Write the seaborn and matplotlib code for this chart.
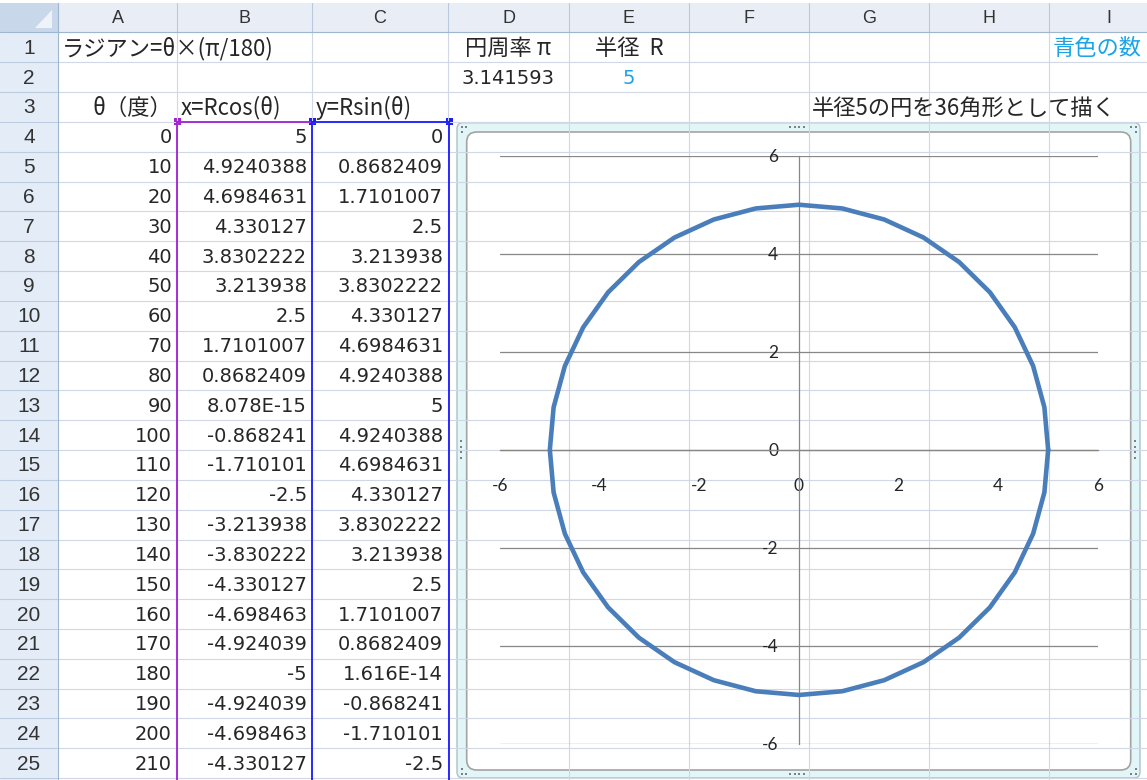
import matplotlib
matplotlib.use("Agg")
import matplotlib.pyplot as plt
from matplotlib.patches import Rectangle, FancyBboxPatch, Polygon
import seaborn as sns

theta_deg = [0, 10, 20, 30, 40, 50, 60, 70, 80, 90, 100, 110, 120, 130, 140, 150,
             160, 170, 180, 190, 200, 210, 220, 230, 240, 250, 260, 270, 280, 290,
             300, 310, 320, 330, 340, 350, 360]
x_vals = [5, 4.9240388, 4.6984631, 4.330127, 3.8302222, 3.213938, 2.5, 1.7101007,
          0.8682409, 8.078e-15, -0.868241, -1.710101, -2.5, -3.213938, -3.830222,
          -4.330127, -4.698463, -4.924039, -5, -4.924039, -4.698463, -4.330127,
          -3.830222, -3.213938, -2.5, -1.710101, -0.868241, -9.18e-16, 0.8682409,
          1.7101007, 2.5, 3.213938, 3.8302222, 4.330127, 4.6984631, 4.9240388, 5]
y_vals = [0, 0.8682409, 1.7101007, 2.5, 3.213938, 3.8302222, 4.330127, 4.6984631,
          4.9240388, 5, 4.9240388, 4.6984631, 4.330127, 3.8302222, 3.213938, 2.5,
          1.7101007, 0.8682409, 1.616e-14, -0.868241, -1.710101, -2.5, -3.213938,
          -3.830222, -4.330127, -4.698463, -4.924039, -5, -4.924039, -4.698463,
          -4.330127, -3.830222, -3.213938, -2.5, -1.710101, -0.868241, 0]
axis_ticks = [-6, -4, -2, 0, 2, 4, 6]

col_letters = ["A", "B", "C", "D", "E", "F", "G", "H", "I"]
pi_text = "3.141593"
radius_text = "5"
a1_text = "ラジアン=θ×(π/180)"
d1_text = "円周率 π"
e1_text = "半径  R"
i1_text = "青色の数"
a3_text = "θ（度）"
b3_text = "x=Rcos(θ)"
c3_text = "y=Rsin(θ)"
g3_text = "半径5の円を36角形として描く"
n_table_rows = 22   # rows 4..25 visible


def cell_fmt(v):
    if v != 0 and abs(v) < 1e-4:
        return f"{v:.3E}"
    return str(v)


sns.set_style("white")
plt.rcParams["font.family"] = ["DejaVu Sans", "Noto Sans CJK JP"]
plt.rcParams["axes.unicode_minus"] = False

W, H = 1147, 780
fig = plt.figure(figsize=(W / 100, H / 100), dpi=100)
bg = fig.add_axes([0, 0, 1, 1])
bg.set_xlim(0, W)
bg.set_ylim(H, 0)
bg.axis("off")

col_edges = [0, 58, 177, 312, 448, 569, 689, 809, 929, 1049, 1169]
row_top0 = 32.4
row_h = 29.83


def ry(k):
    return row_top0 + (k - 1) * row_h


def rc(k):
    return ry(k) + row_h / 2 + 1


grid_c = "#d0d7e5"
for x in col_edges[2:]:
    bg.plot([x, x], [row_top0, H], color=grid_c, lw=0.8)
for k in range(1, 27):
    bg.plot([58, W], [ry(k), ry(k)], color=grid_c, lw=0.8)

# column header band
bg.add_patch(Rectangle((0, 3), W, row_top0 - 3, fc="#e9eef6", ec="none"))
for x in col_edges[1:]:
    bg.plot([x, x], [3, row_top0], color="#b8c9de", lw=0.8)
bg.plot([0, W], [row_top0, row_top0], color="#9eb6ce", lw=0.8)
bg.add_patch(Rectangle((0, 3), 58, row_top0 - 3, fc="#c9d7eb", ec="none"))
bg.add_patch(Polygon([[52, 10], [52, 28], [35, 28]], fc="#eef3f9", ec="none"))

# row header column
bg.add_patch(Rectangle((0, row_top0), 58, H - row_top0, fc="#e4ecf7", ec="none"))
for k in range(2, 27):
    bg.plot([0, 58], [ry(k), ry(k)], color="#bccde2", lw=0.8)
bg.plot([58, 58], [3, H], color="#9eb6ce", lw=0.8)

hdr_c = "#333333"
for i, letter in enumerate(col_letters):
    cx = (col_edges[i + 1] + col_edges[i + 2]) / 2
    bg.text(cx, 18.5, letter, ha="center", va="center", fontsize=13,
            family="Liberation Sans", color=hdr_c)
for k in range(1, 26):
    bg.text(29, rc(k), str(k), ha="center", va="center", fontsize=15,
            family="Liberation Sans", color=hdr_c)

jp = ["Noto Sans CJK JP", "DejaVu Sans"]
cyan = "#1aa3e8"
bg.text(62, rc(1), a1_text, ha="left", va="center", fontsize=16, family=jp)
bg.text(508, rc(1), d1_text, ha="center", va="center", fontsize=16, family=jp)
bg.text(629, rc(1), e1_text, ha="center", va="center", fontsize=16, family=jp)
bg.text(1053, rc(1), i1_text, ha="left", va="center", fontsize=16, family=jp, color=cyan)
bg.text(508, rc(2), pi_text, ha="center", va="center", fontsize=14)
bg.text(629, rc(2), radius_text, ha="center", va="center", fontsize=14, color=cyan)
bg.text(172, rc(3), a3_text, ha="right", va="center", fontsize=16, family=jp)
bg.text(181, rc(3), b3_text, ha="left", va="center", fontsize=16, family=jp)
bg.text(316, rc(3), c3_text, ha="left", va="center", fontsize=16, family=jp)
bg.text(812, rc(3), g3_text, ha="left", va="center", fontsize=16, family=jp)

for i in range(n_table_rows):
    k = i + 4
    bg.text(172, rc(k), str(theta_deg[i]), ha="right", va="center", fontsize=14)
    bg.text(307, rc(k), cell_fmt(x_vals[i]), ha="right", va="center", fontsize=14)
    bg.text(443, rc(k), cell_fmt(y_vals[i]), ha="right", va="center", fontsize=14)

# highlighted source ranges
purple, blue = "#a020d0", "#1a1aff"
top = ry(4)
bg.plot([177, 177], [top, H], color=purple, lw=1.3)
bg.plot([177, 312], [top, top], color=purple, lw=1.3)
bg.plot([312, 312], [top, H], color=blue, lw=1.3)
bg.plot([449, 449], [top, H], color=blue, lw=1.3)
bg.plot([312, 449], [top, top], color=blue, lw=1.3)
bg.add_patch(Rectangle((174, top - 3.5), 7, 7, fc=purple, ec="none"))
bg.add_patch(Rectangle((309, top - 3.5), 7, 7, fc=blue, ec="none"))
bg.add_patch(Rectangle((445.5, top - 3.5), 7, 7, fc=blue, ec="none"))

# chart object frame
bg.add_patch(FancyBboxPatch((457, 122.7), 683, 655.3,
                            boxstyle="round,pad=0,rounding_size=6",
                            fc=(0.85, 0.95, 0.96, 0.75), ec="#a9c2ca", lw=1))
bg.add_patch(FancyBboxPatch((466.7, 132), 664, 638,
                            boxstyle="round,pad=0,rounding_size=10",
                            fc="white", ec="#a3a3a3", lw=1.2))
dot_c = "#808080"
grips = [(461.5, 127), (466, 127), (461.5, 131.5),
         (1135.5, 127), (1131, 127), (1135.5, 131.5),
         (461.5, 773.5), (466, 773.5), (461.5, 769),
         (1135.5, 773.5), (1131, 773.5), (1135.5, 769)]
for j in range(4):
    grips += [(790 + 4.5 * j, 127), (790 + 4.5 * j, 774),
              (461, 441 + 5.5 * j), (1135, 441 + 5.5 * j)]
bg.scatter([g[0] for g in grips], [g[1] for g in grips], s=3, color=dot_c,
           marker="s", linewidths=0)

# chart plot area
ax = fig.add_axes([500 / W, 1 - 744 / H, 598 / W, (744 - 155.7) / H])
ax.patch.set_alpha(0)
sns.lineplot(x=x_vals, y=y_vals, sort=False, estimator=None, color="#4a7ebb",
             lw=3.3, ax=ax, zorder=3)
ax.set_xlim(-6, 6)
ax.set_ylim(-6, 6)
ax.set_xticks(axis_ticks)
ax.set_yticks(axis_ticks)
ax.set_axisbelow(True)
ax.grid(axis="y", color="#878787", lw=0.9)
ax.grid(axis="x", visible=False)
for s in ["top", "right"]:
    ax.spines[s].set_visible(False)
ax.spines["left"].set_position(("data", 0))
ax.spines["bottom"].set_position(("data", 0))
for s in ["left", "bottom"]:
    ax.spines[s].set_color("#878787")
    ax.spines[s].set_linewidth(0.9)
ax.tick_params(axis="x", direction="out", length=6, width=0.9, color="#878787",
               pad=14, labelsize=12.5, labelfontfamily="Lato")
ax.tick_params(axis="y", length=0, pad=15, labelsize=12.5, labelfontfamily="Lato")
ax.set_xlabel("")
ax.set_ylabel("")

fig.savefig("out.png", dpi=100)
